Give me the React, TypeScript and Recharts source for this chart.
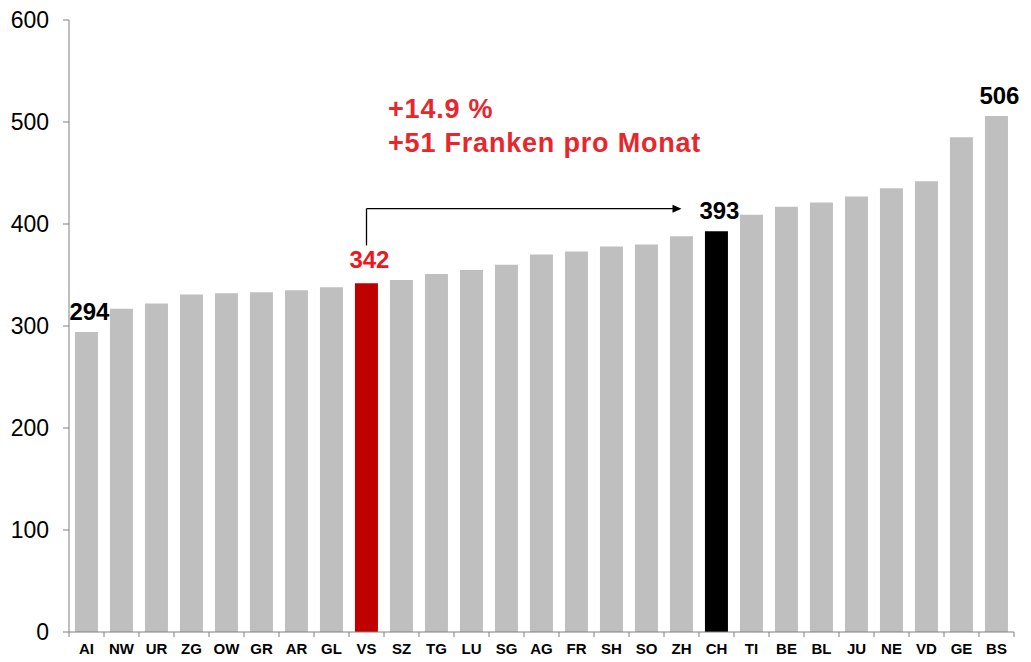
import React from 'react';
import {
  BarChart,
  Bar,
  XAxis,
  YAxis,
  Cell,
  LabelList,
  ReferenceLine,
} from 'recharts';

const cantons = [
  'AI', 'NW', 'UR', 'ZG', 'OW', 'GR', 'AR', 'GL', 'VS', 'SZ', 'TG', 'LU', 'SG', 'AG',
  'FR', 'SH', 'SO', 'ZH', 'CH', 'TI', 'BE', 'BL', 'JU', 'NE', 'VD', 'GE', 'BS',
];
const premiums = [
  294, 317, 322, 331, 332, 333, 335, 338, 342, 345, 351, 355, 360, 370,
  373, 378, 380, 388, 393, 409, 417, 421, 427, 435, 442, 485, 506,
];
const yTicks = [0, 100, 200, 300, 400, 500, 600];
const labelled = ['AI', 'VS', 'CH', 'BS'];
const noteLines = ['+14.9 %', '+51 Franken pro Monat'];

const data = cantons.map((c, i) => ({ canton: c, value: premiums[i] }));

const W = 1031;
const H = 662;
const margin = { top: 20, right: 17, left: 0, bottom: 0 };
const yAxisWidth = 69;
const half = (W - margin.right - yAxisWidth) / cantons.length / 2;
const font = '"Liberation Sans", Arial, sans-serif';
const axisGrey = '#7f7f7f';

const barColor = (c: string) => (c === 'VS' ? '#c00000' : c === 'CH' ? '#000000' : '#bfbfbf');

const CantonTick = (props: any) => {
  const { x, y, payload, index } = props;
  const axisY = y - 8;
  return (
    <g>
      <line x1={x - half} x2={x - half} y1={axisY} y2={axisY + 5} stroke={axisGrey} />
      {index === cantons.length - 1 && (
        <line x1={x + half} x2={x + half} y1={axisY} y2={axisY + 5} stroke={axisGrey} />
      )}
      <text
        x={x}
        y={y + 14}
        textAnchor="middle"
        fontFamily={font}
        fontWeight="bold"
        fontSize={15}
        fill="#000"
      >
        {payload.value}
      </text>
    </g>
  );
};

const ValueLabel = (props: any) => {
  const { x, y, width, value, index } = props;
  const c = cantons[index];
  if (!labelled.includes(c)) return null;
  const isVS = c === 'VS';
  return (
    <text
      x={x + width / 2 + 3}
      y={y - (isVS ? 15 : 12)}
      textAnchor="middle"
      fontFamily={font}
      fontWeight="bold"
      fontSize={24}
      fill={isVS ? '#f0161c' : '#000'}
    >
      {value}
    </text>
  );
};

const ArrowShape = (props: any) => {
  const { x1, y1, x2, y2 } = props;
  return (
    <g>
      <line x1={x1} y1={y1} x2={x2 - 7} y2={y2} stroke="#000" strokeWidth={1.3} />
      <polygon points={`${x2},${y2} ${x2 - 9},${y2 - 4} ${x2 - 9},${y2 + 4}`} fill="#000" />
    </g>
  );
};

export default function App() {
  return (
    <div style={{ position: 'absolute', left: 0, top: 0, width: W, height: H, background: '#fff' }}>
      <BarChart width={W} height={H} data={data} margin={margin} barCategoryGap="17%">
        <XAxis
          dataKey="canton"
          height={30}
          interval={0}
          tickLine={false}
          axisLine={{ stroke: axisGrey }}
          tick={<CantonTick />}
        />
        <YAxis
          width={yAxisWidth}
          domain={[0, 600]}
          ticks={yTicks}
          tickSize={6}
          tickMargin={14}
          axisLine={{ stroke: axisGrey }}
          tickLine={{ stroke: axisGrey }}
          tick={{ fontFamily: font, fontSize: 23, fill: '#000' }}
        />
        <Bar dataKey="value" isAnimationActive={false}>
          {data.map((d) => (
            <Cell key={d.canton} fill={barColor(d.canton)} />
          ))}
          <LabelList dataKey="value" content={<ValueLabel />} />
        </Bar>
        <ReferenceLine
          segment={[{ x: 'VS', y: 379 }, { x: 'VS', y: 415 }]}
          stroke="#000"
          strokeWidth={1.3}
        />
        <ReferenceLine
          segment={[{ x: 'VS', y: 415 }, { x: 'ZH', y: 415 }]}
          shape={<ArrowShape />}
        />
      </BarChart>
      <svg
        width={W}
        height={H}
        style={{ position: 'absolute', left: 0, top: 0, pointerEvents: 'none' }}
      >
        {noteLines.map((t, i) => (
          <text
            key={t}
            x={388}
            y={118 + i * 34}
            fontFamily={font}
            fontWeight="bold"
            fontSize={27}
            letterSpacing={0.8}
            fill="#e8262c"
          >
            {t}
          </text>
        ))}
      </svg>
    </div>
  );
}
